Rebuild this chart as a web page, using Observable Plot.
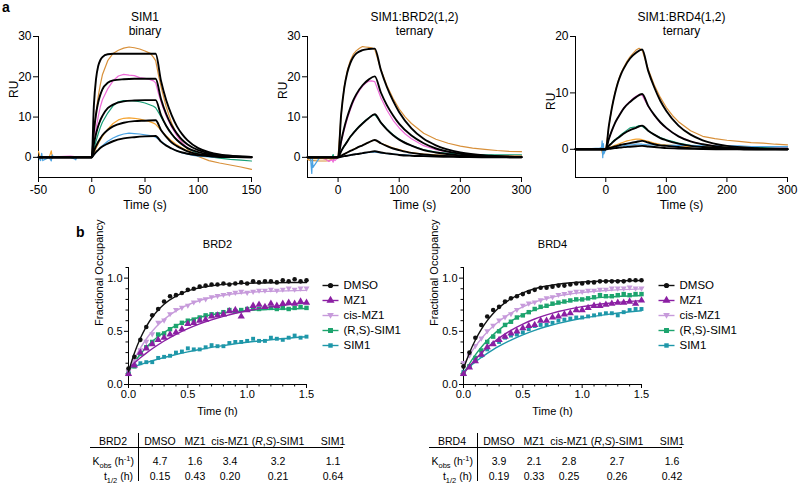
<!DOCTYPE html>
<html><head><meta charset="utf-8">
<script src="https://cdn.jsdelivr.net/npm/d3@7"></script>
<script src="https://cdn.jsdelivr.net/npm/@observablehq/plot@0.6"></script>
<style>
body{margin:0;background:#fff;}
#fig{position:relative;width:800px;height:487px;font-family:"Liberation Sans",Arial,sans-serif;color:#000;overflow:hidden;background:#fff}
.plabel{position:absolute;font-weight:bold;font-size:14px;line-height:14px}
.cell{position:absolute;font-size:10.5px;line-height:12px;white-space:nowrap;transform:translate(-50%,-50%)}
.cellr{position:absolute;font-size:10.5px;line-height:12px;white-space:nowrap;transform:translate(-100%,-50%)}
.hl{position:absolute;height:0;border-top:1px solid #000}
.vl{position:absolute;width:0;border-left:1px solid #000}
sub,sup{font-size:7.5px;line-height:0}
</style></head><body><div id="fig"></div>
<script>
// ---------------- Panel a : SPR sensorgrams ----------------
const sprColors = ["#D8903A", "#EE6BD8", "#17A077", "#F5A431", "#4BA3E3"];

// SIM1 binary
const spr1T = [-50,-48,-47,-46,-40,-38,-37,-36,-20,-16,-15,-14,0,2,4,6,8,10,15,20,25,30,35,40,45,50,55,58,60,63,66,70,75,80,85,90,95,100,110,120,130,140,150];
const spr1Data = [
  [0,0,0,0,0,0,0,0,0,0,0,0, 0,6,11,15,18,20.5,24,25.8,26.6,27.1,27.4,27.2,26.9,26.4,25.8,24.8,24, 20,16.5,12.5,8.5,5.6,3.5,2.0,0.9,0.2,-0.8,-1.4,-1.9,-2.4,-3.0],
  [0.1,0.1,0.1,0.1,0.1,0.1,0.1,0.1,0.3,0.2,-0.2,0.1, 0,3.5,7,10,12.5,14.3,17,19,20.2,20.6,20.4,20.3,19.8,19.6,19.3,19.0,18.5, 15.5,13,10.2,7.5,5.3,3.6,2.4,1.4,0.8,0.3,0.1,0,0,0],
  [0,0,0,0,0,0,0,0,0,0,0,0, 0,2,4,5.8,7.4,8.7,11,12.8,13.8,14.1,14.1,14.0,13.8,13.5,13.0,12.7,12.3, 11,9.6,7.8,5.9,4.3,3.1,2.2,1.5,0.9,0.2,-0.2,-0.5,-0.7,-0.9],
  [1.5,-0.3,0.2,0,0,1.6,-0.2,0,0,0,0,0, 0,1,2.2,3.3,4.3,5.2,7,8.4,9.3,9.7,9.8,9.7,9.5,9.2,8.8,8.5,8.2, 7.3,6.4,5.3,4.1,3.1,2.3,1.6,1.1,0.7,0.3,0.1,0,0,0],
  [0,-0.8,1.0,-0.8,0,-0.9,0.6,0,0,-0.4,-0.6,0.1, 0,0.6,1.2,1.8,2.4,2.9,4,4.8,5.4,5.8,6.0,5.9,5.8,5.6,5.4,5.2,5.0, 4.4,3.8,3.0,2.2,1.6,1.1,0.8,0.5,0.3,0.1,0,0,0,0]
];
const spr1FitT = [-50,0,2,4,6,8,10,15,20,30,40,50,60,65,70,75,80,85,90,100,110,120,135,150];
const spr1Fits = [
  [0,0,12.9,19.4,22.6,24.1,24.9,25.6,25.7,25.7,25.7,25.7,25.7,19.0,14.1,10.5,7.7,5.7,4.2,2.3,1.3,0.7,0.3,0.1],
  [0,0,6.4,10.7,13.6,15.5,16.9,18.5,19.1,19.4,19.5,19.5,19.5,14.5,10.7,7.9,5.9,4.3,3.2,1.8,1.0,0.5,0.2,0.1],
  [0,0,3.3,5.8,7.7,9.2,10.3,12.2,13.1,13.9,14.1,14.2,14.2,10.5,7.8,5.8,4.3,3.2,2.3,1.3,0.7,0.4,0.2,0.1],
  [0,0,1.5,2.8,3.8,4.7,5.5,6.8,7.7,8.6,9.0,9.1,9.2,6.8,5.1,3.7,2.8,2.1,1.5,0.8,0.5,0.2,0.1,0],
  [0,0,0.7,1.3,1.8,2.3,2.7,3.4,4.0,4.7,5.0,5.2,5.3,3.9,2.9,2.2,1.6,1.2,0.9,0.5,0.3,0.1,0.05,0]
];

// SIM1:BRD2(1,2) ternary
const spr2T = [-50,-45,-43,-42,-41,-30,-20,-15,-10,-8,-7,-5,-2,0,5,10,15,20,25,30,35,40,45,50,55,60,70,80,90,100,110,120,140,160,180,200,220,240,260,280,300];
const spr2Data = [
  [-0.5,-0.8,-0.8,-0.8,-0.8,-0.9,-0.9,-0.8,-0.5,-0.3,-0.5,-0.3,-0.2,0, 10.5,17.5,21.5,24,25.6,26.5,27.1,27.5,27.4,27.3,27.2,26.8, 21.8,17.8,14.6,12.0,10.0,8.4,6.0,4.5,3.5,2.8,2.3,2.0,1.7,1.5,1.4],
  [0,0,0,0,0,0,-0.5,-1.0,-0.6,-1.2,-0.4,-0.8,-0.3,0, 3.6,6.8,9.5,11.8,13.8,15.3,16.6,17.6,18.4,18.9,19.0,18.8, 14.8,11.7,9.2,7.3,5.8,4.6,2.9,1.9,1.3,0.9,0.6,0.5,0.4,0.4,0.4],
  [0,0,0,0,0,0,0,0,0,0.7,-0.3,0,0,0, 1.5,2.8,4.0,5.1,6.1,7.0,7.8,8.5,9.2,9.8,10.4,10.6, 8.7,7.0,5.6,4.5,3.6,2.9,1.9,1.3,1.0,0.8,0.7,0.6,0.6,0.6,0.6],
  [-0.3,-0.3,-0.3,-0.3,-0.3,-0.3,-0.3,-0.3,-0.2,-0.2,-0.2,-0.2,-0.1,0, 0.4,0.8,1.2,1.6,2.0,2.3,2.7,3.0,3.4,3.7,4.1,4.3, 3.5,2.9,2.3,1.9,1.5,1.2,0.8,0.6,0.5,0.4,0.4,0.4,0.3,0.3,0.3],
  [0,-0.3,-4.0,-0.2,-2.5,0,0,0,0,0,0,0,0,0, 0.15,0.3,0.45,0.6,0.7,0.8,0.9,1.0,1.1,1.2,1.3,1.3, 1.1,0.9,0.8,0.7,0.6,0.5,0.4,0.3,0.3,0.2,0.2,0.2,0.2,0.2,0.2]
];
const spr23FitT = [-50,0,5,10,15,20,25,30,40,50,60,70,80,90,100,120,140,160,200,250,300];
const spr2Fits = [
  [0,0,10.6,17.1,21.0,23.4,24.9,25.8,26.6,26.9,27.0,21.7,17.4,14.0,11.2,7.2,4.6,3.0,1.2,0.4,0.1],
  [0,0,4.0,7.3,10.0,12.3,14.2,15.7,17.9,19.3,20.1,16.1,12.9,10.4,8.3,5.4,3.5,2.2,0.9,0.3,0.1],
  [0,0,1.5,2.8,3.9,5.1,6.0,6.9,8.4,9.7,10.7,8.6,6.9,5.5,4.4,2.9,1.8,1.2,0.5,0.2,0.1],
  [0,0,0.4,0.8,1.2,1.6,1.9,2.3,3.0,3.7,4.3,3.5,2.8,2.2,1.8,1.1,0.7,0.5,0.2,0.1,0],
  [0,0,0.15,0.3,0.4,0.55,0.7,0.8,1.05,1.3,1.5,1.2,1.0,0.8,0.6,0.4,0.3,0.2,0.1,0,0]
];

// SIM1:BRD4(1,2) ternary
const spr3T = [-50,-30,-10,-7,-6,-5,-4,-3,0,5,10,15,20,25,30,35,40,45,50,55,60,70,80,90,100,110,120,140,160,180,200,220,240,260,280,300];
const spr3Data = [
  [0,0,0,0,-0.5,-1.0,-0.3,0.2,0, 4.0,7.4,10,12,13.5,14.6,15.6,16.4,17.0,17.6,17.9,17.6, 14.2,11.4,9.2,7.4,6.0,4.9,3.3,2.3,1.9,1.6,1.4,1.2,1.1,0.9,0.8],
  [0,0,0,0,0,0,0,0,0, 1.8,3.3,4.6,5.6,6.6,7.4,8.0,8.5,9.0,9.4,9.7,9.6, 7.6,6.0,4.7,3.7,3.0,2.3,1.4,0.9,0.6,0.5,0.4,0.4,0.3,0.3,0.3],
  [0,0,0,0,0,0,0,0,0, 0.6,1.2,1.7,2.1,2.6,3.0,3.4,3.8,3.9,4.0,4.2,4.1, 3.3,2.6,2.1,1.7,1.4,1.1,0.7,0.5,0.4,0.3,0.3,0.3,0.3,0.2,0.2],
  [0,0,0,0,0,0,0,0,0, 0.3,0.5,0.7,0.9,1.1,1.3,1.5,1.6,1.7,1.8,1.8,1.7, 1.4,1.1,0.9,0.8,0.7,0.6,0.5,0.5,0.5,0.5,0.5,0.5,0.5,0.5,0.5],
  [0.1,0.1,0.2,0.3,1.5,-1.5,1.0,-0.8,0, 0.2,0.3,0.4,0.5,0.6,0.6,0.7,0.8,0.8,0.9,0.9,0.9, 0.8,0.8,0.7,0.7,0.7,0.7,0.7,0.6,0.6,0.6,0.6,0.5,0.5,0.5,0.5]
];
const spr3Fits = [
  [0,0,4.1,7.3,9.8,11.8,13.3,14.4,16.1,17.1,17.7,13.9,11.0,8.6,6.8,4.2,2.6,1.6,0.6,0.2,0.05],
  [0,0,1.8,3.3,4.6,5.6,6.5,7.3,8.4,9.25,9.8,7.7,6.1,4.8,3.8,2.3,1.4,0.9,0.3,0.1,0],
  [0,0,0.6,1.1,1.6,2.0,2.4,2.8,3.4,3.8,4.2,3.3,2.6,2.0,1.6,1.0,0.6,0.4,0.15,0,0],
  [0,0,0.2,0.35,0.5,0.65,0.8,0.9,1.1,1.3,1.5,1.2,0.9,0.7,0.6,0.4,0.2,0.1,0.05,0,0],
  [0,0,0.08,0.15,0.2,0.27,0.32,0.38,0.45,0.53,0.6,0.5,0.4,0.3,0.2,0.15,0.1,0.05,0,0,0]
];

const sprTitles = [["SIM1","binary"],["SIM1:BRD2(1,2)","ternary"],["SIM1:BRD4(1,2)","ternary"]];
const sprXTicks1 = [-50,0,50,100,150];
const sprXTicks23 = [0,100,200,300];
const sprYTicks12 = [0,10,20,30];
const sprYTicks3 = [0,10,20];

// ---------------- Panel b : fractional occupancy ----------------
const occNames = ["DMSO","MZ1","cis-MZ1","(R,S)-SIM1","SIM1"];
const occColors = ["#111111","#8B1FA3","#C79BDB","#1DA46E","#1E97A9"];
const occT = [0,0.05,0.1,0.15,0.2,0.25,0.3,0.35,0.4,0.45,0.5,0.55,0.6,0.65,0.7,0.75,0.8,0.85,0.9,0.95,1.0,1.05,1.1,1.15,1.2,1.25,1.3,1.35,1.4,1.45,1.5];
const brd2Data = [
  [0.15,0.26,0.42,0.54,0.65,0.71,0.78,0.83,0.84,0.86,0.89,0.90,0.92,0.93,0.94,0.94,0.95,0.94,0.95,0.96,0.95,0.97,0.96,0.97,0.97,0.96,0.98,0.97,0.99,0.97,0.98],
  [0.10,0.18,0.30,0.34,0.38,0.42,0.44,0.47,0.49,0.52,0.57,0.58,0.60,0.61,0.64,0.65,0.66,0.69,0.70,0.64,0.70,0.74,0.75,0.73,0.76,0.74,0.76,0.77,0.76,0.78,0.77],
  [0.12,0.22,0.32,0.40,0.47,0.58,0.60,0.66,0.70,0.72,0.74,0.77,0.79,0.80,0.82,0.83,0.84,0.85,0.86,0.87,0.86,0.87,0.88,0.88,0.89,0.88,0.89,0.90,0.89,0.90,0.90],
  [0.10,0.17,0.29,0.35,0.40,0.47,0.48,0.52,0.55,0.58,0.60,0.61,0.63,0.65,0.66,0.66,0.68,0.70,0.69,0.70,0.71,0.72,0.71,0.72,0.72,0.71,0.72,0.71,0.72,0.73,0.72],
  [0.12,0.18,0.20,0.21,0.21,0.25,0.26,0.27,0.30,0.31,0.34,0.33,0.33,0.35,0.37,0.36,0.36,0.39,0.40,0.40,0.41,0.43,0.41,0.41,0.44,0.43,0.42,0.44,0.46,0.44,0.45]
];
const brd4Data = [
  [0.17,0.30,0.44,0.56,0.64,0.70,0.73,0.78,0.81,0.83,0.85,0.87,0.89,0.91,0.91,0.92,0.93,0.93,0.94,0.95,0.95,0.96,0.96,0.97,0.97,0.97,0.97,0.97,0.98,0.98,0.98],
  [0.10,0.16,0.22,0.28,0.35,0.38,0.42,0.45,0.48,0.50,0.53,0.55,0.56,0.60,0.60,0.63,0.64,0.66,0.67,0.70,0.70,0.72,0.74,0.74,0.75,0.76,0.77,0.77,0.78,0.76,0.79],
  [0.20,0.27,0.36,0.43,0.50,0.55,0.60,0.63,0.66,0.70,0.74,0.76,0.77,0.79,0.81,0.82,0.84,0.85,0.86,0.87,0.87,0.88,0.88,0.89,0.89,0.90,0.90,0.90,0.91,0.90,0.90],
  [0.10,0.17,0.25,0.32,0.40,0.45,0.50,0.56,0.59,0.63,0.65,0.68,0.71,0.73,0.74,0.76,0.77,0.78,0.79,0.80,0.80,0.81,0.82,0.84,0.83,0.83,0.84,0.85,0.84,0.85,0.85],
  [0.12,0.17,0.22,0.27,0.33,0.38,0.40,0.44,0.46,0.47,0.49,0.52,0.55,0.56,0.56,0.58,0.60,0.61,0.62,0.63,0.63,0.64,0.65,0.66,0.67,0.67,0.65,0.68,0.70,0.71,0.71]
];
const occFitT = [0,0.05,0.1,0.15,0.2,0.25,0.3,0.4,0.5,0.6,0.7,0.8,1.0,1.2,1.5];
const brd2Fits = [
  [0.12,0.296,0.435,0.545,0.632,0.700,0.755,0.831,0.880,0.910,0.929,0.941,0.952,0.957,0.959],
  [0.15,0.202,0.251,0.295,0.336,0.374,0.409,0.472,0.525,0.570,0.608,0.641,0.693,0.730,0.768],
  [0.12,0.240,0.342,0.428,0.500,0.561,0.612,0.692,0.749,0.790,0.818,0.839,0.865,0.877,0.885],
  [0.12,0.209,0.284,0.349,0.404,0.451,0.490,0.553,0.599,0.632,0.656,0.674,0.695,0.707,0.715],
  [0.15,0.170,0.188,0.206,0.223,0.239,0.254,0.282,0.307,0.329,0.349,0.366,0.397,0.421,0.449]
];
const brd4Fits = [
  [0.15,0.297,0.418,0.518,0.600,0.667,0.723,0.806,0.862,0.900,0.926,0.943,0.963,0.973,0.978],
  [0.10,0.172,0.236,0.294,0.347,0.394,0.436,0.509,0.568,0.616,0.654,0.686,0.732,0.762,0.789],
  [0.18,0.276,0.358,0.430,0.493,0.547,0.595,0.672,0.730,0.774,0.807,0.833,0.865,0.884,0.899],
  [0.10,0.195,0.278,0.350,0.413,0.468,0.516,0.595,0.656,0.702,0.737,0.764,0.800,0.821,0.837],
  [0.12,0.168,0.213,0.254,0.293,0.328,0.360,0.418,0.467,0.509,0.545,0.575,0.623,0.657,0.693]
];
const occXTicks = [0,0.5,1.0,1.5];
const occXMinor = [0.1,0.2,0.3,0.4,0.6,0.7,0.8,0.9,1.1,1.2,1.3,1.4];
const occYTicks = [0,0.5,1.0];
const occYMinor = [0.1,0.2,0.3,0.4,0.6,0.7,0.8,0.9,1.1];

// ---------------- Tables ----------------
const tableCols = ["DMSO","MZ1","cis-MZ1","(<i>R</i>,<i>S</i>)-SIM1","SIM1"];
const brd2Kobs = ["4.7","1.6","3.4","3.2","1.1"];
const brd2Thalf = ["0.15","0.43","0.20","0.21","0.64"];
const brd4Kobs = ["3.9","2.1","2.8","2.7","1.6"];
const brd4Thalf = ["0.19","0.33","0.25","0.26","0.42"];

// =============== drawing ===============
const fig = document.getElementById("fig");
const FONT = "Liberation Sans, Arial, sans-serif";
function place(el, left, top) {
  el.style.position = "absolute"; el.style.left = left + "px"; el.style.top = top + "px";
  fig.appendChild(el); return el;
}
const triDown = {draw(ctx, size) {
  const h = Math.sqrt(size);
  ctx.moveTo(0, h * 0.62); ctx.lineTo(-h * 0.62, -h * 0.45); ctx.lineTo(h * 0.62, -h * 0.45); ctx.closePath();
}};
const occSymbols = ["circle","triangle",triDown,"square","square"];
const occR = [2.3,2.7,2.7,2.5,2.2];

function sprPlot(o) {
  const rows = [], fitRows = [];
  o.data.forEach((arr, k) => arr.forEach((v, i) => rows.push({t: o.t[i], v, k})));
  o.fits.forEach((arr, k) => arr.forEach((v, i) => fitRows.push({t: o.tf[i], v, k})));
  return Plot.plot({
    width: o.width, height: 220, marginLeft: o.ml, marginRight: o.mr, marginTop: 36, marginBottom: 43,
    style: {fontFamily: FONT, fontSize: "12px", background: "transparent", color: "#000"},
    x: {domain: o.xdom}, y: {domain: o.ydom},
    color: {type: "ordinal", domain: [0,1,2,3,4], range: sprColors},
    marks: [
      Plot.ruleY([o.ydom[0]], {stroke: "#000", strokeWidth: 1}),
      Plot.ruleX([o.xdom[0]], {stroke: "#000", strokeWidth: 1}),
      Plot.axisX(o.xticks, {tickSize: 5, tickPadding: 3, label: null, tickFormat: d => String(d), fontSize: 12}),
      Plot.axisY(o.yticks, {tickSize: 5, tickPadding: 2, label: null, tickFormat: d => String(d), fontSize: 12}),
      Plot.line(rows, {x: "t", y: "v", z: "k", stroke: "k", strokeWidth: 1.2}),
      Plot.line(fitRows, {x: "t", y: "v", z: "k", stroke: "#000", strokeWidth: 1.9, curve: "monotone-x"}),
      Plot.text([o.title[0]], {text: d => d, frameAnchor: "top", dy: -24, fontSize: 12}),
      Plot.text([o.title[1]], {text: d => d, frameAnchor: "top", dy: -10, fontSize: 12}),
      Plot.text(["Time (s)"], {text: d => d, frameAnchor: "bottom", dy: 31, fontSize: 12}),
      Plot.text(["RU"], {text: d => d, frameAnchor: "left", dx: -24, dy: o.ruDy, rotate: -90, fontSize: 12})
    ]
  });
}

place(sprPlot({width: 262, ml: 38, mr: 11, xdom: [-50,150], ydom: [-5,30], xticks: sprXTicks1, yticks: sprYTicks12,
  t: spr1T, data: spr1Data, tf: spr1FitT, fits: spr1Fits, title: sprTitles[0], ruDy: -9}), 0, 0);
place(sprPlot({width: 262, ml: 37, mr: 11, xdom: [-50,300], ydom: [-5,30], xticks: sprXTicks23, yticks: sprYTicks12,
  t: spr2T, data: spr2Data, tf: spr23FitT, fits: spr2Fits, title: sprTitles[1], ruDy: -8}), 270, 0);
place(sprPlot({width: 262, ml: 37, mr: 13, xdom: [-50,300], ydom: [-5,20], xticks: sprXTicks23, yticks: sprYTicks3,
  t: spr3T, data: spr3Data, tf: spr23FitT, fits: spr3Fits, title: sprTitles[2], ruDy: 3}), 538, 0);

function occPlot(title, data, fits) {
  const marks = [
    Plot.ruleY([0], {stroke: "#000"}),
    Plot.ruleX([0], {stroke: "#000"}),
    Plot.axisX(occXTicks, {tickSize: 4, tickPadding: 2, label: null, tickFormat: d => d.toFixed(1), fontSize: 11}),
    Plot.axisX(occXMinor, {tickSize: 2.5, label: null, tickFormat: () => ""}),
    Plot.axisY(occYTicks, {tickSize: 4, tickPadding: 2, label: null, tickFormat: d => d.toFixed(1), fontSize: 11}),
    Plot.axisY(occYMinor, {tickSize: 2.5, label: null, tickFormat: () => ""})
  ];
  for (let k = 4; k >= 0; k--) {
    const pts = data[k].map((v, i) => ({t: occT[i], v}));
    const fit = fits[k].map((v, i) => ({t: occFitT[i], v}));
    marks.push(Plot.line(fit, {x: "t", y: "v", stroke: occColors[k], strokeWidth: 1.4, curve: "monotone-x"}));
    marks.push(Plot.dot(pts, {x: "t", y: "v", fill: occColors[k], stroke: "none", symbol: occSymbols[k], r: occR[k]}));
  }
  marks.push(Plot.text([title], {text: d => d, frameAnchor: "top", dy: -27, fontSize: 11}));
  marks.push(Plot.text(["Time (h)"], {text: d => d, frameAnchor: "bottom", dy: 30, fontSize: 11}));
  marks.push(Plot.text(["Fractional Occupancy"], {text: d => d, frameAnchor: "left", dx: -29, rotate: -90, fontSize: 11}));
  return Plot.plot({
    width: 262, height: 215, marginLeft: 68, marginRight: 16, marginTop: 57, marginBottom: 41,
    style: {fontFamily: FONT, fontSize: "11px", background: "transparent", color: "#000"},
    x: {domain: [0, 1.5]}, y: {domain: [0, 1.1]},
    marks
  });
}
place(occPlot("BRD2", brd2Data, brd2Fits), 60, 210);
place(occPlot("BRD4", brd4Data, brd4Fits), 395, 210);

function legendPlot() {
  const marks = [];
  occNames.forEach((n, k) => {
    marks.push(Plot.link([n], {x1: 0, x2: 1, y1: d => d, y2: d => d, stroke: occColors[k], strokeWidth: 1.4}));
    marks.push(Plot.dot([n], {x: 0.5, y: d => d, fill: occColors[k], stroke: "none", symbol: occSymbols[k], r: occR[k] + 0.3}));
  });
  marks.push(Plot.text(occNames, {x: 1, y: d => d, text: d => d, dx: 5, textAnchor: "start", fontSize: 11.5}));
  return Plot.plot({
    width: 110, height: 100, margin: 0,
    style: {fontFamily: FONT, background: "transparent", color: "#000"},
    x: {domain: [0, 1], range: [6, 22], axis: null},
    y: {type: "point", domain: occNames, range: [15, 90], axis: null},
    marks
  });
}
place(legendPlot(), 316, 262);
place(legendPlot(), 652, 262);

function table(base, name, kobs, thalf) {
  const colDx = [22, 57, 92, 140, 195];
  const yH = 441, yK = 461, yT = 476;
  const mk = (cls, html, x, y) => { const d = document.createElement("div"); d.className = cls; d.innerHTML = html; place(d, x, y); };
  mk("cell", name, base - 25, yH);
  tableCols.forEach((c, i) => mk("cell", c, base + colDx[i], yH));
  mk("cellr", "K<sub>obs</sub> (h<sup>-1</sup>)", base - 4, yK);
  mk("cellr", "t<sub>1/2</sub> (h)", base - 5, yT);
  kobs.forEach((v, i) => mk("cell", v, base + colDx[i], yK));
  thalf.forEach((v, i) => mk("cell", v, base + colDx[i], yT));
  const hl = document.createElement("div"); hl.className = "hl"; hl.style.width = "253px"; place(hl, base - 48, 447);
  const vl = document.createElement("div"); vl.className = "vl"; vl.style.height = "48px"; place(vl, base, 433);
}
table(138, "BRD2", brd2Kobs, brd2Thalf);
table(477, "BRD4", brd4Kobs, brd4Thalf);

const la = document.createElement("div"); la.className = "plabel"; la.textContent = "a"; place(la, 2, 0);
const lb = document.createElement("div"); lb.className = "plabel"; lb.textContent = "b"; place(lb, 76, 225);
</script></body></html>
